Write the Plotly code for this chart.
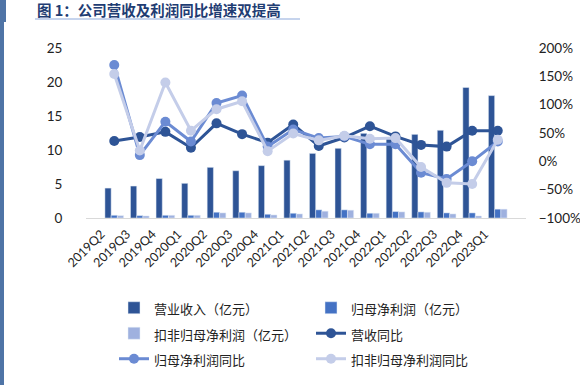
import plotly.graph_objects as go

quarters = ["2019Q2", "2019Q3", "2019Q4", "2020Q1", "2020Q2", "2020Q3", "2020Q4", "2021Q1",
            "2021Q2", "2021Q3", "2021Q4", "2022Q1", "2022Q2", "2022Q3", "2022Q4", "2023Q1"]
revenue = [4.4, 4.7, 5.8, 5.1, 7.45, 6.95, 7.7, 8.5, 9.5, 10.25, 12.45, 11.8, 12.3, 12.9, 19.2, 18.0]
net_profit = [0.4, 0.35, 0.4, 0.4, 0.85, 0.85, 0.55, 0.7, 1.2, 1.2, 0.7, 0.95, 0.9, 0.75, 0.75, 1.3]
deducted_profit = [0.35, 0.3, 0.4, 0.4, 0.75, 0.75, 0.45, 0.6, 1.0, 1.15, 0.7, 0.9, 0.85, 0.6, 0.3, 1.3]
revenue_yoy = [0.36, 0.43, 0.52, 0.24, 0.67, 0.48, 0.33, 0.65, 0.27, 0.42, 0.62, 0.44, 0.29, 0.26, 0.54, 0.54]
net_profit_yoy = [1.70, 0.11, 0.70, 0.35, 1.03, 1.16, 0.26, 0.56, 0.41, 0.44, 0.30, 0.30, -0.20, -0.31, 0.0, 0.35]
deducted_yoy = [1.54, 0.19, 1.39, 0.54, 0.92, 1.06, 0.18, 0.49, 0.37, 0.45, 0.40, 0.41, -0.10, -0.38, -0.40, 0.38]
series_names = ["营业收入（亿元）", "归母净利润（亿元）", "扣非归母净利润（亿元）",
                "营收同比", "归母净利润同比", "扣非归母净利润同比"]

C_DARK = "#2e5496"
C_MID = "#4472c4"
C_LIGHT = "#9fb1df"
L_DARK = "#2e5496"
L_MID = "#6b8bd3"
L_LIGHT = "#c4cde9"


def lg(name):
    return '<span style="font-size:13px">' + name + '</span>'


fig = go.Figure()
fig.add_trace(go.Bar(x=quarters, y=revenue, name=lg(series_names[0]), marker_color=C_DARK))
fig.add_trace(go.Bar(x=quarters, y=net_profit, name=lg(series_names[1]), marker_color=C_MID))
fig.add_trace(go.Bar(x=quarters, y=deducted_profit, name=lg(series_names[2]), marker_color=C_LIGHT))
fig.add_trace(go.Scatter(x=quarters, y=revenue_yoy, name=lg(series_names[3]), yaxis="y2", mode="lines+markers",
                         line=dict(color=L_DARK, width=3), marker=dict(size=10, color=L_DARK)))
fig.add_trace(go.Scatter(x=quarters, y=net_profit_yoy, name=lg(series_names[4]), yaxis="y2", mode="lines+markers",
                         line=dict(color=L_MID, width=3), marker=dict(size=10, color=L_MID)))
fig.add_trace(go.Scatter(x=quarters, y=deducted_yoy, name=lg(series_names[5]), yaxis="y2", mode="lines+markers",
                         line=dict(color=L_LIGHT, width=3), marker=dict(size=10, color=L_LIGHT)))

W, H = 580, 385
L, R, T, B = 86, 54, 48, 167
pw, ph = W - L - R, H - T - B


def px(x):
    return (x - L) / pw


def py(y):
    return (H - B - y) / ph


fig.update_layout(
    width=W, height=H,
    margin=dict(l=L, r=R, t=T, b=B, autoexpand=False),
    paper_bgcolor="white", plot_bgcolor="white",
    barmode="group", bargap=0.27, bargroupgap=0,
    font=dict(family="Lato, Liberation Sans, sans-serif", size=13, color="#222"),
    xaxis=dict(type="category", tickangle=-45, showgrid=False, showline=True, linecolor="#d9d9d9",
               linewidth=1, ticks="", tickfont=dict(size=12.5, color="#222"),
               ticklabelshift=-13, ticklabelstandoff=3),
    yaxis=dict(range=[0, 25], dtick=5, showgrid=False, zeroline=False, showline=False,
               ticks="outside", ticklen=20, tickcolor="rgba(0,0,0,0)",
               tickfont=dict(size=13.5, color="#222")),
    yaxis2=dict(range=[-1, 2], dtick=0.5, tickformat=".0%", overlaying="y", side="right",
                showgrid=False, zeroline=False, showline=False, ticks="outside", ticklen=9,
                tickcolor="rgba(0,0,0,0)", tickfont=dict(size=13.5, color="#222")),
    legend=dict(orientation="h", x=px(114), xanchor="left", y=py(290), yanchor="top",
                entrywidth=152, entrywidthmode="pixels", traceorder="normal",
                font=dict(family="Noto Sans CJK SC", size=17.3, color="#222"),
                bgcolor="rgba(0,0,0,0)"),
    showlegend=True,
)

# left decorative border bar
fig.add_shape(type="rect", xref="paper", yref="paper", x0=px(0), x1=px(4), y0=py(385), y1=py(0),
              line_width=0, fillcolor="#4f74a6", layer="below")
fig.add_shape(type="rect", xref="paper", yref="paper", x0=px(0), x1=px(6), y0=py(22), y1=py(0),
              line_width=0, fillcolor="#4f74a6", layer="below")
# title underline
fig.add_shape(type="line", xref="paper", yref="paper", x0=px(35), x1=px(300), y0=py(19), y1=py(19),
              line=dict(color="#8eaadb", width=1.2))
fig.add_annotation(text="<b>图 1：公司营收及利润同比增速双提高</b>", xref="paper", yref="paper",
                   x=px(35), y=py(10), xanchor="left", yanchor="middle", showarrow=False,
                   font=dict(family="Noto Sans CJK SC", size=14.5, color="#1f3d73"))

fig.write_html("out.html", config={"displayModeBar": False},
               post_script="document.body.style.margin='0';")
